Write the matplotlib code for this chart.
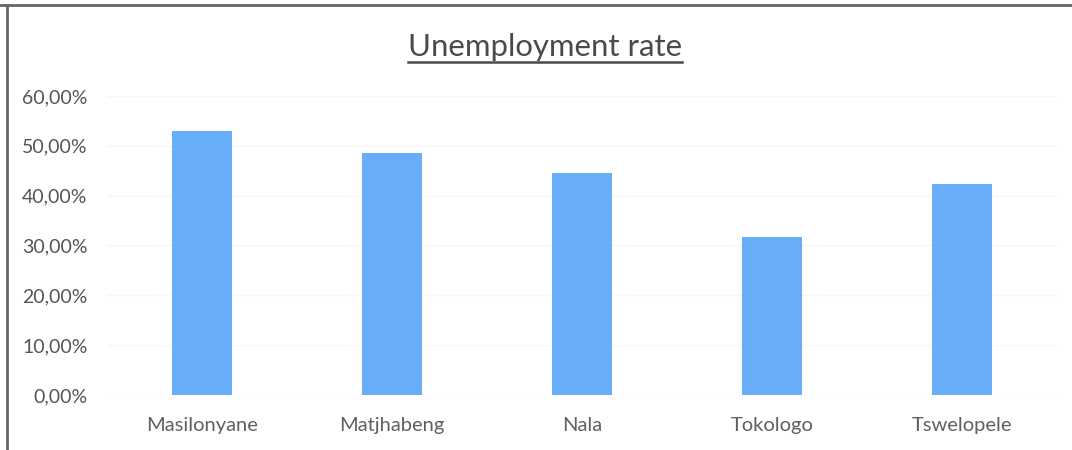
import matplotlib.pyplot as plt
from matplotlib.lines import Line2D
from matplotlib.ticker import FuncFormatter

# unemployment rate per local municipality
municipalities = ["Masilonyane", "Matjhabeng", "Nala", "Tokologo", "Tswelopele"]
rates = [0.530, 0.486, 0.446, 0.317, 0.424]
yticks = [0.0, 0.1, 0.2, 0.3, 0.4, 0.5, 0.6]

plt.rcParams['font.family'] = ['Lato', 'DejaVu Sans']

fig = plt.figure(figsize=(10.72, 4.5), dpi=100)
ax = fig.add_axes([0.0998, 0.1222, 0.8862, 0.6645])

x = range(len(municipalities))
ax.bar(x, rates, width=0.316, color="#68adf8", zorder=2)

ax.set_xlim(-0.5, len(municipalities) - 0.5)
ax.set_ylim(0, 0.6)
ax.set_yticks(yticks)
ax.yaxis.set_major_formatter(FuncFormatter(lambda v, _: f"{v * 100:.2f}%".replace(".", ",")))
ax.set_xticks(list(x))
ax.set_xticklabels(municipalities)

ax.tick_params(axis="y", length=0, pad=14, labelsize=14, labelcolor="#555555")
ax.tick_params(axis="x", length=0, pad=16, labelsize=14.5, labelcolor="#606060")
ax.grid(axis="y", color="#f6f6f6", linewidth=1, zorder=0)
for s in ax.spines.values():
    s.set_visible(False)

# title with underline
title = fig.text(0.508, 0.876, "Unemployment rate", ha="center", va="baseline",
                 fontsize=22.4, color="#4a4a4a")
fig.canvas.draw()
bb = title.get_window_extent().transformed(fig.transFigure.inverted())
fig.add_artist(Line2D([bb.x0, bb.x1], [0.862, 0.862], transform=fig.transFigure,
                      color="#4a4a4a", linewidth=1.8))

# chart frame (top and left edges)
fig.add_artist(Line2D([0.0, 1.0], [0.989, 0.989], transform=fig.transFigure,
                      color="#666666", linewidth=2))
fig.add_artist(Line2D([0.0065, 0.0065], [0.0, 0.989], transform=fig.transFigure,
                      color="#666666", linewidth=2))

fig.savefig("out.png", dpi=100)
